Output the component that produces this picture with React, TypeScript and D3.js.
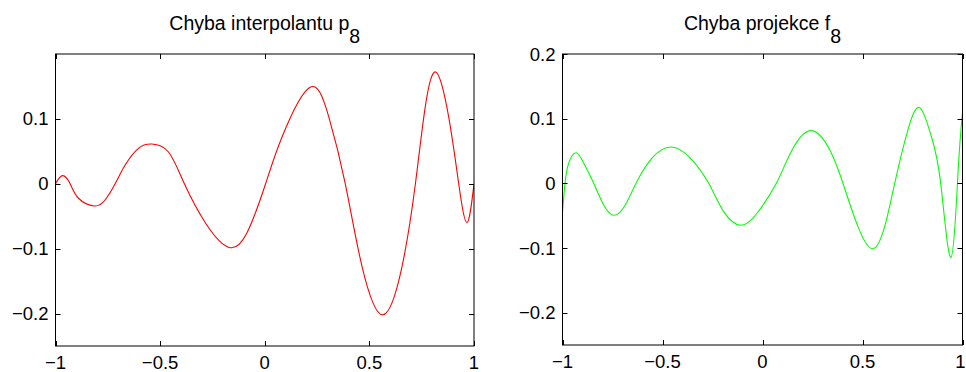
import React from "react";
import * as d3 from "d3";

// ---- data ----
const interpX = [
  -1, -0.9665, -0.93, -0.89, -0.815, -0.763, -0.715, -0.667, -0.6035, -0.54, -0.46, -0.384,
  -0.28, -0.174, -0.086, 0.004, 0.083, 0.215, 0.306, 0.385, 0.465, 0.564, 0.656, 0.72, 0.767,
  0.8185, 0.879, 0.927, 0.9666, 1,
];
const interpY = [
  0, 0.0125, 0, -0.0223, -0.0342, -0.025, 0, 0.029, 0.0546, 0.0612, 0.049, 0,
  -0.062, -0.0977, -0.0762, 0, 0.0725, 0.1485, 0.1032, 0, -0.1275, -0.2018, -0.1275, 0, 0.1186,
  0.172, 0.1032, 0, -0.0598, 0,
];

const projX = [
  -1, -0.9875, -0.969, -0.9325, -0.894, -0.844, -0.794, -0.741, -0.686, -0.6325, -0.5525,
  -0.456, -0.361, -0.269, -0.194, -0.109, -0.0275, 0.069, 0.144, 0.241, 0.336, 0.4025,
  0.4775, 0.551, 0.611, 0.661, 0.7275, 0.7875, 0.844, 0.891, 0.9425, 0.9775, 1,
];
const projY = [
  -0.0453, 0, 0.0313, 0.0474, 0.0313, 0, -0.0334, -0.0494, -0.0334, 0, 0.0391,
  0.0562, 0.0391, 0, -0.0438, -0.0649, -0.0463, 0, 0.0494, 0.0815, 0.052, 0,
  -0.067, -0.1012, -0.067, 0, 0.0831, 0.1167, 0.0727, 0, -0.1146, 0.0158, 0.11,
];

const xTicks = [-1, -0.5, 0, 0.5, 1];
const yTicksLeft = [-0.2, -0.1, 0, 0.1];
const yTicksRight = [-0.2, -0.1, 0, 0.1, 0.2];
const xDomain: [number, number] = [-1, 1];
const yDomain: [number, number] = [-0.25, 0.2];

const FONT = "'Liberation Sans', Arial, Helvetica, sans-serif";
const W = 966;
const H = 372;

const fmt = (v: number) => (v < 0 ? "\u2212" + String(Math.abs(v)) : String(v));

type PanelProps = {
  x0: number; x1: number; yTop: number; yBot: number;
  xs: number[]; ys: number[]; color: string;
  title: string; sub: string; yTicks: number[];
};

function Panel({ x0, x1, yTop, yBot, xs, ys, color, title, sub, yTicks }: PanelProps) {
  const xScale = d3.scaleLinear().domain(xDomain).range([x0, x1]);
  const yScale = d3.scaleLinear().domain(yDomain).range([yBot, yTop]);
  const pts = xs.map((x, i) => [x, ys[i]] as [number, number]);
  const line = d3
    .line<[number, number]>()
    .x((d) => xScale(d[0]))
    .y((d) => yScale(d[1]))
    .curve(d3.curveNatural);
  const tl = 5;
  const cx = (x0 + x1) / 2;
  const cid = "clip" + Math.round(x0);
  return (
    <g>
      <defs>
        <clipPath id={cid}>
          <rect x={x0} y={yTop} width={x1 - x0} height={yBot - yTop} />
        </clipPath>
      </defs>
      <path d={line(pts) || ""} fill="none" stroke={color} strokeWidth={1.1} clipPath={`url(#${cid})`} />
      <rect x={x0} y={yTop} width={x1 - x0} height={yBot - yTop} fill="none" stroke="#000" strokeWidth={1} />
      {xTicks.map((t) => {
        const px = Math.round(xScale(t)) + 0.5;
        const nearEdge = xScale(t) + 6 > W;
        return (
          <g key={"x" + t}>
            <line x1={px} x2={px} y1={yBot} y2={yBot - tl} stroke="#000" />
            <line x1={px} x2={px} y1={yTop} y2={yTop + tl} stroke="#000" />
            <text
              x={nearEdge ? W - 0.5 : xScale(t)}
              y={yBot + 22.5}
              textAnchor={nearEdge ? "end" : "middle"}
              fontSize={18.5}
              fontFamily={FONT}
              fill="#000"
            >
              {fmt(t)}
            </text>
          </g>
        );
      })}
      {yTicks.map((t) => {
        const py = Math.round(yScale(t)) + 0.5;
        return (
          <g key={"y" + t}>
            <line x1={x0} x2={x0 + tl} y1={py} y2={py} stroke="#000" />
            <line x1={x1} x2={x1 - tl} y1={py} y2={py} stroke="#000" />
            <text x={x0 - 7} y={yScale(t) + 6.5} textAnchor="end" fontSize={18.5} fontFamily={FONT} fill="#000">
              {fmt(t)}
            </text>
          </g>
        );
      })}
      <text x={cx} y={30} textAnchor="middle" fontSize={19.5} fontFamily={FONT} fill="#000">
        {title}
        <tspan dy={13}>{sub}</tspan>
      </text>
    </g>
  );
}

export default function App() {
  return (
    <svg width={W} height={H} style={{ position: "absolute", left: 0, top: 0, background: "#fff" }}>
      <rect x={0} y={0} width={W} height={H} fill="#fff" />
      <Panel
        x0={55.5} x1={474} yTop={54} yBot={346}
        xs={interpX} ys={interpY} color="#ff0000"
        title="Chyba interpolantu p" sub="8" yTicks={yTicksLeft}
      />
      <Panel
        x0={562.5} x1={962.5} yTop={54} yBot={345}
        xs={projX} ys={projY} color="#00ff00"
        title="Chyba projekce f" sub="8" yTicks={yTicksRight}
      />
    </svg>
  );
}
